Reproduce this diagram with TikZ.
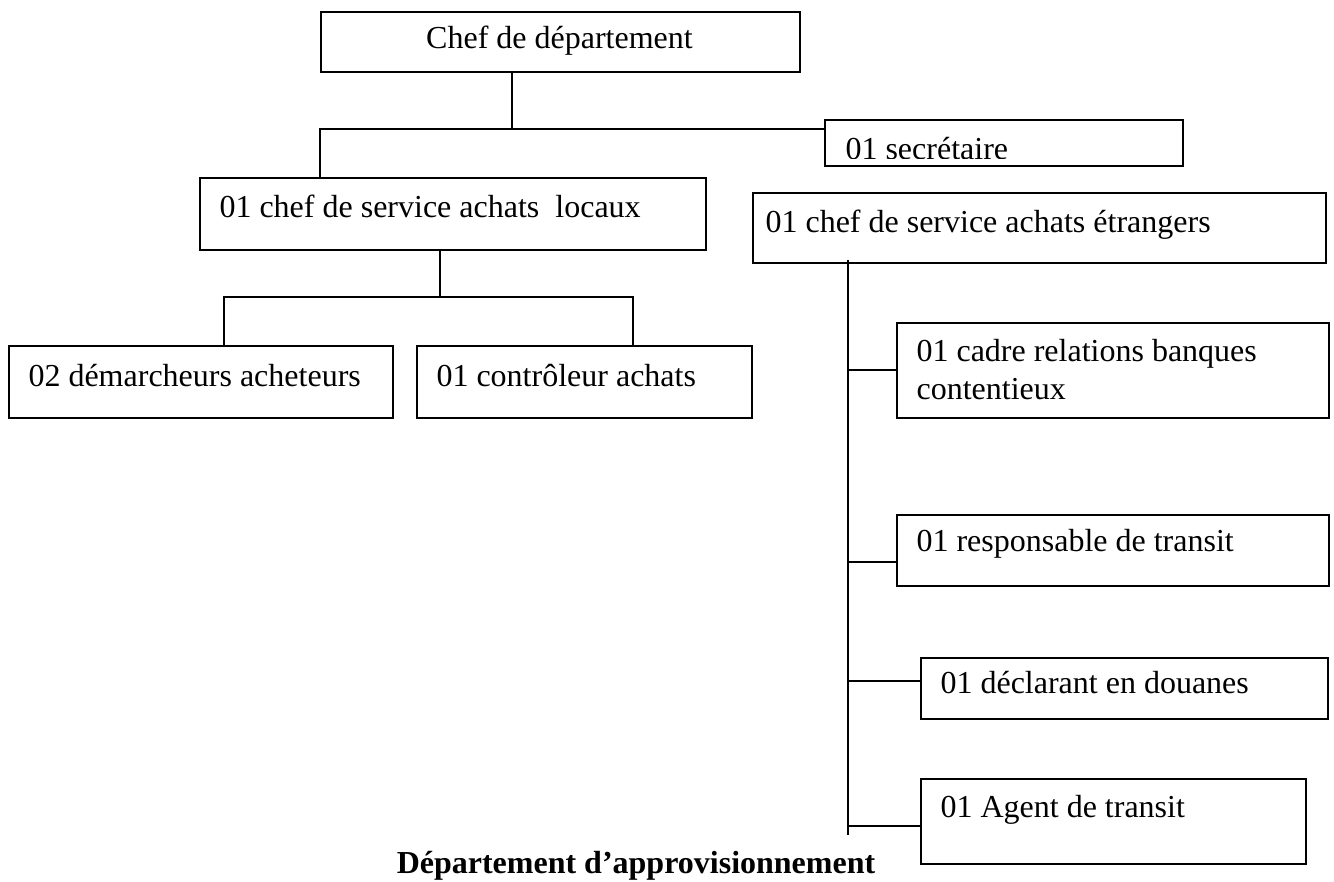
\documentclass[tikz,border=0pt]{standalone}
\usepackage{fontspec}
\setmainfont{Liberation Serif}
\usetikzlibrary{calc}

\tikzset{
  unit/.style={x=0.375pt,y=-0.375pt},
  orgbox/.style={draw, line width=0.75pt, rectangle, inner sep=0pt, anchor=north west},
  lbl/.style={inner sep=0pt, anchor=base west, font=\fontsize{12}{14.25}\selectfont},
  link/.style={line width=0.75pt}
}

\begin{document}
\begin{tikzpicture}[unit]
\useasboundingbox (0,0) rectangle (1334,882);

% boxes (position = top left corner, size in px)
\node[orgbox, minimum width=479*0.375pt, minimum height=60*0.375pt] (chef) at (320,11) {};
\node[orgbox, minimum width=358*0.375pt, minimum height=46*0.375pt] (sec)  at (824,119) {};
\node[orgbox, minimum width=506*0.375pt, minimum height=72*0.375pt] (loc)  at (199,177) {};
\node[orgbox, minimum width=573*0.375pt, minimum height=70*0.375pt] (etr)  at (752,192) {};
\node[orgbox, minimum width=384*0.375pt, minimum height=72*0.375pt] (dem)  at (8,345) {};
\node[orgbox, minimum width=335*0.375pt, minimum height=72*0.375pt] (ctl)  at (416,345) {};
\node[orgbox, minimum width=432*0.375pt, minimum height=95*0.375pt] (cad)  at (896,322) {};
\node[orgbox, minimum width=432*0.375pt, minimum height=71*0.375pt] (rsp)  at (896,514) {};
\node[orgbox, minimum width=407*0.375pt, minimum height=61*0.375pt] (dcl)  at (920,657) {};
\node[orgbox, minimum width=385*0.375pt, minimum height=85*0.375pt] (agt)  at (920,778) {};

% labels
\node[lbl, anchor=base] (chef-t) at (559.5,49) {Chef de département};
\begin{scope}
  \clip (sec.north west) rectangle ($(sec.south east)+(0,-8)$);
  \node[lbl] (sec-t) at (845,160) {01 secrétaire};
\end{scope}
\node[lbl] (loc-t) at (219,218) {01 chef de service achats\ \ locaux};
\node[lbl] (etr-t) at (765,233) {01 chef de service achats étrangers};
\node[lbl] (dem-t) at (28,387) {02 démarcheurs acheteurs};
\node[lbl] (ctl-t) at (436,387) {01 contrôleur achats};
% two-line label: base anchor sits on the last line
\node[lbl, align=left] (cad-t) at (916,400) {01 cadre relations banques\\contentieux};
\node[lbl] (rsp-t) at (916,552) {01 responsable de transit};
\node[lbl] (dcl-t) at (940,694) {01 déclarant en douanes};
\node[lbl] (agt-t) at (940,817) {01 Agent de transit};
\node[lbl, anchor=base, font=\fontsize{12}{14.25}\selectfont\bfseries] (title) at (636,873) {Département d’approvisionnement};

% junction points
\coordinate (hub) at (512,129);
\coordinate (lk)  at (320,129);
\coordinate (lj)  at (440,297);
\coordinate (dj)  at (224,297);
\coordinate (cj)  at (633,297);
\coordinate (spb) at (848,835);
\coordinate (b2)  at (848,562);
\coordinate (b3)  at (848,681);
\coordinate (b4)  at (848,826);

% connectors
\draw[link] (chef.south -| hub) -- (hub);
\draw[link] (sec.west |- hub) -- (lk) -- (lk |- loc.north);
\draw[link] (loc.south -| lj) -- (lj);
\draw[link] (dem.north -| dj) -- (dj) -- (cj) -- (ctl.north -| cj);
\draw[link] ($(etr.south -| spb)+(0,-4)$) -- (spb);
\draw[link] (cad.west -| spb) -- (cad.west);
\draw[link] (b2) -- (b2 -| rsp.west);
\draw[link] (b3) -- (b3 -| dcl.west);
\draw[link] (b4) -- (b4 -| agt.west);
\end{tikzpicture}
\end{document}
